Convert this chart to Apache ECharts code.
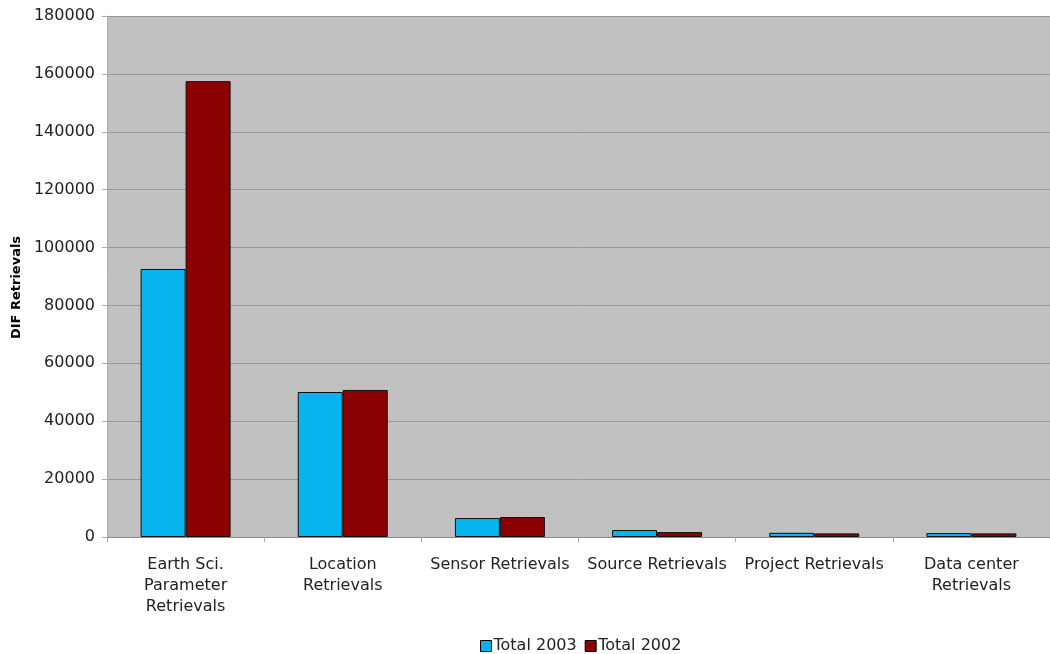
<!DOCTYPE html>
<html>
<head>
<meta charset="utf-8">
<script src="https://cdn.jsdelivr.net/npm/echarts@6/dist/echarts.min.js"></script>
<style>
  html, body { margin: 0; padding: 0; background: #ffffff; }
  #chart { width: 1050px; height: 654px; }
</style>
</head>
<body>
<div id="chart"></div>
<script>
// Retrieval categories (wrapped as they appear under the axis)
const categories = [
  'Earth Sci.\nParameter\nRetrievals',
  'Location\nRetrievals',
  'Sensor Retrievals',
  'Source Retrievals',
  'Project Retrievals',
  'Data center\nRetrievals'
];
const total2003 = [92600, 50100, 6550, 2400, 1450, 1350];
const total2002 = [157500, 50800, 6900, 1700, 1250, 1250];
const seriesNames = ['Total 2003', 'Total 2002'];
const yTicks = [0, 20000, 40000, 60000, 80000, 100000, 120000, 140000, 160000, 180000];

// Mottled grey tile for the plot background
function makeTile() {
  const c = document.createElement('canvas');
  c.width = 8; c.height = 8;
  const g = c.getContext('2d');
  g.fillStyle = '#c3c3c3';
  g.fillRect(0, 0, 8, 8);
  g.fillStyle = '#bababa';
  const dots = [[0,0],[1,1],[2,2],[3,1],[4,0],[5,3],[6,2],[7,1],[0,4],[1,5],[2,6],[3,5],[4,4],[5,7],[6,6],[7,5],[2,0],[6,4]];
  dots.forEach(([x, y]) => g.fillRect(x, y, 1, 1));
  return c;
}

const chart = echarts.init(document.getElementById('chart'), null, { renderer: 'canvas' });
const font = 'Verdana, "DejaVu Sans", sans-serif';

chart.setOption({
  animation: false,
  textStyle: { fontFamily: font },
  grid: {
    left: 107, right: 0, top: 16, bottom: 117,
    show: true,
    backgroundColor: { image: makeTile(), repeat: 'repeat' },
    borderWidth: 0
  },
  legend: {
    left: 475, top: 633,
    itemWidth: 11, itemHeight: 11, itemGap: 8,
    icon: 'rect',
    textStyle: { fontSize: 16, color: '#222', fontFamily: font, padding: [0, 0, 0, -3] },
    data: seriesNames.map(n => ({ name: n, itemStyle: { borderColor: '#000', borderWidth: 1 } }))
  },
  xAxis: {
    type: 'category',
    data: categories,
    axisLine: { lineStyle: { color: '#8a8a8a', width: 1 } },
    axisTick: { show: true, length: 5, alignWithLabel: false, lineStyle: { color: '#aaaaaa' } },
    axisLabel: {
      interval: 0, margin: 17, fontSize: 16, color: '#222', lineHeight: 21, fontFamily: font
    }
  },
  yAxis: {
    type: 'value',
    min: yTicks[0], max: yTicks[yTicks.length - 1], interval: 20000,
    name: 'DIF Retrievals',
    nameLocation: 'middle',
    nameGap: 84,
    nameTextStyle: { fontSize: 13, fontWeight: 'bold', color: '#000', fontFamily: font, padding: [0, 0, 0, -22] },
    axisLine: { show: true, lineStyle: { color: '#aaaaaa' } },
    axisTick: { show: true, length: 5, lineStyle: { color: '#aaaaaa' } },
    axisLabel: { fontSize: 16, color: '#222', margin: 12, fontFamily: font, formatter: v => String(v) },
    splitLine: { lineStyle: { color: '#999999', width: 1 } }
  },
  series: [
    {
      name: seriesNames[0], type: 'bar', data: total2003,
      barWidth: 45, barGap: '0%',
      itemStyle: { color: '#08b4ee', borderColor: '#111', borderWidth: 1 }
    },
    {
      name: seriesNames[1], type: 'bar', data: total2002,
      barWidth: 45,
      itemStyle: { color: '#8b0000', borderColor: '#111', borderWidth: 1 }
    }
  ]
});
</script>
</body>
</html>
